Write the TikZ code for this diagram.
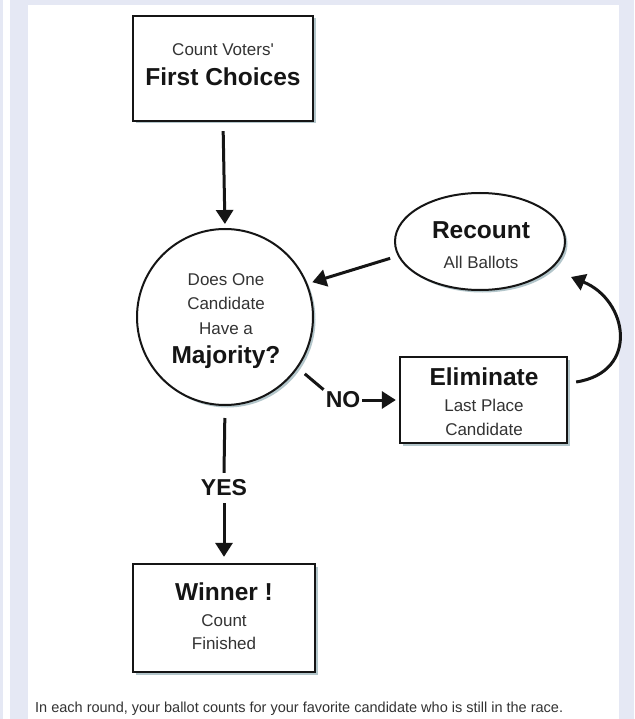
\documentclass[tikz,border=0pt]{standalone}
\usepackage{fontspec}
\setmainfont{Liberation Sans}
\usetikzlibrary{arrows.meta,shapes.geometric,shadows,calc}
\definecolor{lav}{HTML}{E5E8F4}
\definecolor{shc}{HTML}{B3C6CB}
\definecolor{txt}{HTML}{333333}
\definecolor{ink}{HTML}{151515}
\begin{document}
\begin{tikzpicture}[x=1pt,y=-1pt,
  shad/.style={drop shadow={shadow xshift=2.5pt,shadow yshift=-2.5pt,fill=shc,opacity=1}},
  boxnode/.style={rectangle,draw=ink,line width=2.3pt,fill=white,inner sep=0pt,shad},
  roundnode/.style={draw=ink,line width=2pt,fill=white,inner sep=0pt,shad},
  stxt/.style={font=\fontsize{17}{20}\selectfont,text=txt,anchor=base,inner sep=0pt},
  btxt/.style={font=\fontsize{24.5}{28}\bfseries\selectfont,text=ink,anchor=base,inner sep=0pt},
  lbl/.style={font=\fontsize{23}{26}\bfseries\selectfont,text=ink},
  ln/.style={draw=ink,line width=3pt},
  arr/.style={ln,-{Triangle[length=14pt,width=17pt]}}
]
\useasboundingbox (0,0) rectangle (634,719);
\fill[lav] (0,0) rectangle (634,719);
\fill[white] (3,0) rectangle (10,719);
\fill[white] (28,5) rectangle (619,719);

% First choices
\node[boxnode,minimum width=180pt,minimum height=105pt] (fc) at (223,68.5) {};
\node[stxt] (fc1) at (223,56) {Count Voters\textquotesingle};
\node[btxt] (fc2) at (223,86) {First Choices};

% Majority circle
\node[roundnode,circle,minimum size=176pt] (maj) at (225,317) {};
\node[stxt] (m1) at (226,285) {Does One};
\node[stxt] (m2) at (226,309) {Candidate};
\node[stxt] (m3) at (226,334) {Have a};
\node[btxt] (m4) at (226,363.5) {Majority?};

% Recount ellipse
\node[roundnode,ellipse,minimum width=170pt,minimum height=97pt] (rec) at (480,241.5) {};
\node[btxt] (r1) at (481,238.8) {Recount};
\node[stxt] (r2) at (481,268) {All Ballots};

% Eliminate box
\node[boxnode,minimum width=167pt,minimum height=86pt] (elim) at (483.5,400) {};
\node[btxt] (e1) at (484,385.8) {Eliminate};
\node[stxt] (e2) at (484,411) {Last Place};
\node[stxt] (e3) at (484,435) {Candidate};

% Winner box
\node[boxnode,minimum width=182pt,minimum height=108pt] (win) at (224,618) {};
\node[btxt] (w1) at (224,600.8) {Winner !};
\node[stxt] (w2) at (224,626) {Count};
\node[stxt] (w3) at (224,649) {Finished};

% labels
\node[lbl,inner sep=2pt] (no) at (343,400) {NO};
\node[lbl,inner sep=6.8pt] (yes) at (224,488) {YES};
\coordinate (rtip) at (571,277);

% connectors
\draw[arr,shorten <=9pt,shorten >=4pt] (fc.south) -- (maj.north);
\draw[arr,shorten <=8pt,shorten >=5pt] (rec.190) -- (maj.22);
\draw[ln,shorten <=9pt] (maj.-35) -- (no.north west);
\draw[arr,shorten >=3pt] (no.east) -- (elim.west);
\draw[arr] ($(elim.east)+(8,-18)$) .. controls (640,372) and (628,300) .. (rtip);
\draw[ln,shorten <=12pt] (maj.south) -- (yes.north);
\draw[arr,shorten >=6pt] (yes.south) -- (win.north);

% note
\node[anchor=base west,font=\fontsize{14.5}{17}\selectfont,text=txt,inner sep=0pt] (note) at (35,712.5)
  {In each round, your ballot counts for your favorite candidate who is still in the race.};
\end{tikzpicture}
\end{document}
